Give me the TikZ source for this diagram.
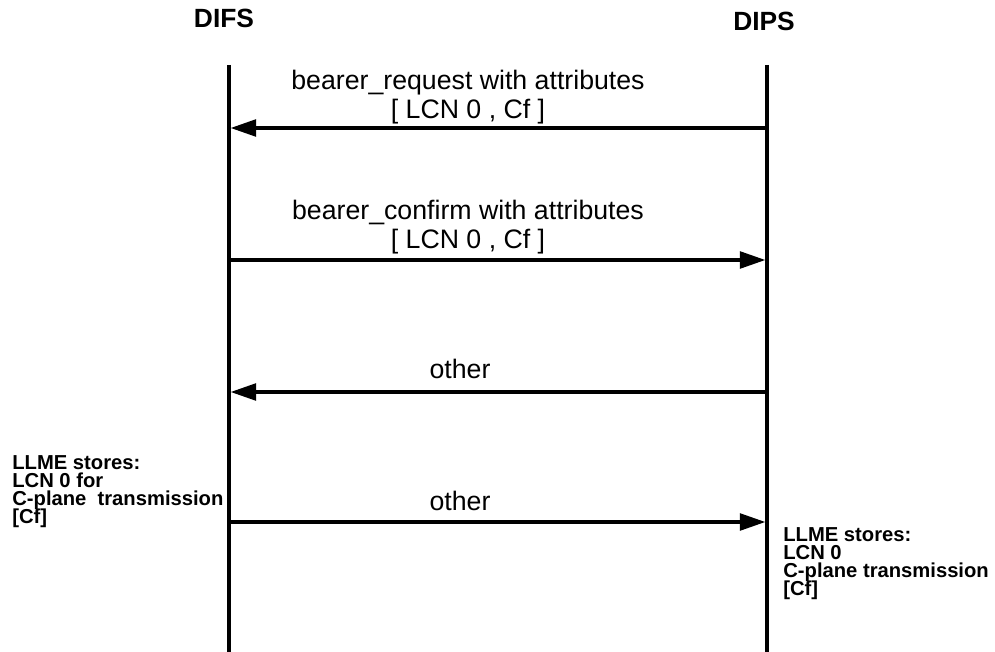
\documentclass[tikz,border=0pt]{standalone}
\usepackage{fontspec}
\setmainfont{Liberation Sans}
\usetikzlibrary{arrows.meta}

\begin{document}
\begin{tikzpicture}[x=0.02cm,y=-0.02cm,
  every node/.style={inner sep=0pt},
  entity/.style={font=\bfseries\fontsize{15}{18}\selectfont,anchor=base},
  lifeline/.style={line width=1.9pt},
  msg/.style={-{Triangle[length=14.5pt,width=9.5pt]},line width=1.9pt,shorten >=0.9pt},
  msglabel/.style={font=\fontsize{15.2}{16}\selectfont,align=center,anchor=south},
  note/.style={font={\bfseries\fontsize{11.5}{10.3}\selectfont\lineskiplimit=-5pt\relax},align=left,anchor=north west}
]
\useasboundingbox (0,0) rectangle (995,652);
% entities
\node[entity] (difs) at (224,28) {DIFS};
\node[entity] (dips) at (764,31) {DIPS};
\coordinate (difs top) at (229,65);  \coordinate (difs bot) at (229,652);
\coordinate (dips top) at (767,65);  \coordinate (dips bot) at (767,652);
\draw[lifeline] (difs top) -- (difs bot);
\draw[lifeline] (dips top) -- (dips bot);
% bearer_request
\coordinate (m1l) at (229,128); \coordinate (m1r) at (767,128);
\draw[msg] (m1r) -- (m1l);
\node[msglabel] (m1) at (468,124) {bearer\_request with attributes\\{[} LCN 0 , Cf ]};
% bearer_confirm
\coordinate (m2l) at (229,260); \coordinate (m2r) at (767,260);
\draw[msg] (m2l) -- (m2r);
\node[msglabel] (m2) at (468,254) {bearer\_confirm with attributes\\{[} LCN 0 , Cf ]};
% other
\coordinate (m3l) at (229,392); \coordinate (m3r) at (767,392);
\draw[msg] (m3r) -- (m3l);
\node[msglabel] (m3) at (460,379) {other};
\coordinate (m4l) at (229,522); \coordinate (m4r) at (767,522);
\draw[msg] (m4l) -- (m4r);
\node[msglabel] (m4) at (460,511) {other};
% LLME notes
\node[note] (difs note) at (12,455) {LLME stores:\\LCN 0 for\\C-plane\ \ transmission\\{[}Cf]};
\node[note] (dips note) at (783,527) {LLME stores:\\LCN 0\\C-plane transmission\\{[}Cf]};
\end{tikzpicture}
\end{document}
